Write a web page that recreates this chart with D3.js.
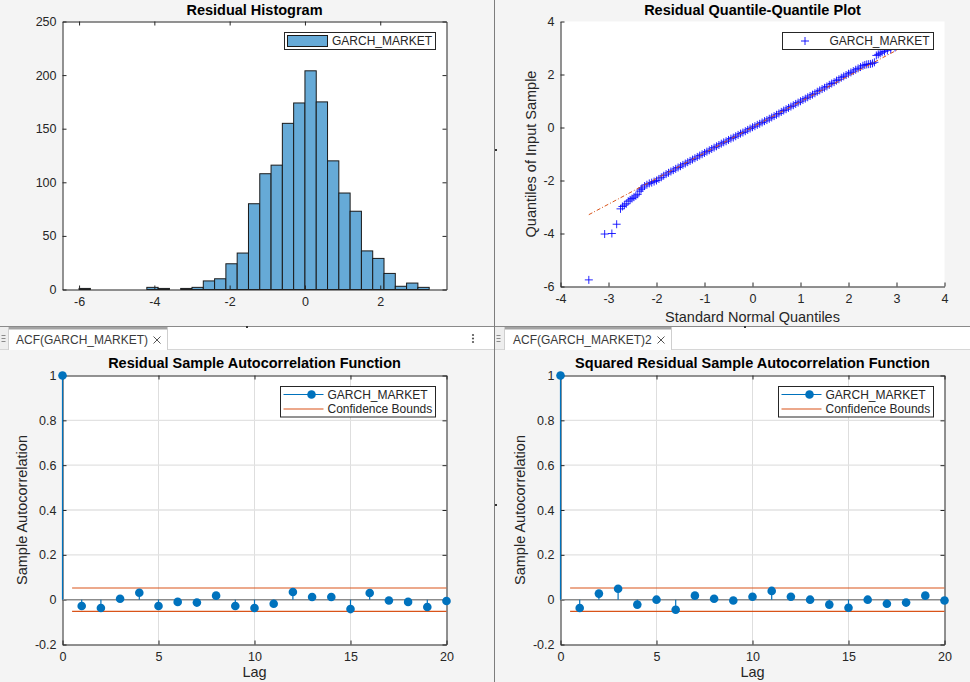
<!DOCTYPE html>
<html><head><meta charset="utf-8">
<script src="https://cdn.jsdelivr.net/npm/d3@7"></script>
<style>
html,body{margin:0;padding:0;background:#f4f4f4;}
svg{display:block;}
</style></head><body><svg id="c" width="970" height="682"></svg>
<script>
// ---------------- DATA ----------------
const seriesName = "GARCH_MARKET";
// Residual histogram: bin lower edges and counts (bin width 0.3)
const histBinStarts = [-6.0,-5.7,-5.4,-5.1,-4.8,-4.5,-4.2,-3.9,-3.6,-3.3,-3.0,-2.7,-2.4,-2.1,-1.8,-1.5,-1.2,-0.9,-0.6,-0.3,0.0,0.3,0.6,0.9,1.2,1.5,1.8,2.1,2.4,2.7,3.0];
const histCounts    = [1,0,0,0,0,0,2,1,0,1,2,8,10,24,34,80,108,116,155,174,204,175,120,90,73,36,29,15,3,6,2];
const histBinWidth = 0.3;
const histXTicks = [-6,-4,-2,0,2];
const histYTicks = [0,50,100,150,200,250];

// QQ plot: theoretical (standard normal) quantiles vs sample quantiles
const qqTheo = [-3.41,-3.08,-2.93,-2.83,-2.75,-2.71,-2.67,-2.63,-2.59,-2.55,-2.51,-2.47,-2.43,-2.39,-2.35,-2.32,
 -2.30,-2.25,-2.20,-2.15,-2.10,-2.05,-2.00,-1.95,-1.90,-1.85,-1.80,-1.75,-1.70,-1.65,-1.60,-1.55,-1.50,-1.45,-1.40,-1.35,-1.30,-1.25,-1.20,-1.15,-1.10,-1.05,-1.00,
 -0.95,-0.90,-0.85,-0.80,-0.75,-0.70,-0.65,-0.60,-0.55,-0.50,-0.45,-0.40,-0.35,-0.30,-0.25,-0.20,-0.15,-0.10,-0.05,0.00,
 0.05,0.10,0.15,0.20,0.25,0.30,0.35,0.40,0.45,0.50,0.55,0.60,0.65,0.70,0.75,0.80,0.85,0.90,0.95,1.00,
 1.05,1.10,1.15,1.20,1.25,1.30,1.35,1.40,1.45,1.50,1.55,1.60,1.65,1.70,1.75,1.80,1.85,1.90,1.95,2.00,2.05,2.10,2.15,2.20,2.25,2.30,
 2.34,2.38,2.42,2.46,2.50,2.54,2.58,2.62,2.66,2.70,2.75,2.81,2.88,2.97,3.08,3.41];
const qqSample = [-5.75,-4.02,-4.00,-3.65,-3.07,-2.98,-2.93,-2.88,-2.78,-2.73,-2.68,-2.63,-2.58,-2.52,-2.40,-2.33,
 -2.28,-2.21,-2.16,-2.11,-2.08,-2.04,-2.00,-1.94,-1.88,-1.82,-1.76,-1.71,-1.66,-1.61,-1.56,-1.51,-1.46,-1.41,-1.36,-1.31,-1.26,-1.21,-1.16,-1.11,-1.06,-1.01,-0.96,
 -0.91,-0.86,-0.81,-0.76,-0.71,-0.66,-0.61,-0.56,-0.52,-0.47,-0.42,-0.38,-0.33,-0.28,-0.23,-0.19,-0.14,-0.09,-0.04,0.01,
 0.05,0.10,0.14,0.19,0.24,0.28,0.33,0.38,0.43,0.48,0.53,0.59,0.64,0.69,0.74,0.79,0.84,0.89,0.94,0.99,
 1.04,1.09,1.14,1.19,1.24,1.29,1.35,1.40,1.45,1.50,1.55,1.61,1.66,1.71,1.77,1.82,1.88,1.93,1.98,2.03,2.08,2.13,2.18,2.23,2.28,2.33,
 2.36,2.38,2.39,2.40,2.42,2.46,2.72,2.76,2.80,2.84,2.87,2.91,2.95,3.02,3.15,3.28];
const qqLineX = [-3.41, 3.41];
const qqLineY = [-3.29, 3.31];
const qqXTicks = [-4,-3,-2,-1,0,1,2,3,4];
const qqYTicks = [-6,-4,-2,0,2,4];

// ACF of residuals, lags 0..20
const lags = [0,1,2,3,4,5,6,7,8,9,10,11,12,13,14,15,16,17,18,19,20];
const acfResid = [1,-0.028,-0.037,0.004,0.031,-0.028,-0.010,-0.013,0.018,-0.028,-0.037,-0.018,0.034,0.012,0.012,-0.042,0.030,-0.004,-0.010,-0.033,-0.006];
const acfSquared = [1,-0.037,0.027,0.049,-0.022,0.0,-0.045,0.018,0.004,-0.004,0.013,0.039,0.013,0.0,-0.022,-0.036,0.0,-0.018,-0.013,0.018,-0.004];
const confBound = 0.052;
const confLagRange = [0.5, 20];
const acfXTicks = [0,5,10,15,20];
const acfYTicks = [-0.2,0,0.2,0.4,0.6,0.8,1];

// ---------------- DRAWING ----------------
const FONT = '"Liberation Sans", Arial, Helvetica, sans-serif';
const AX = "#262626", BLUE = "#0072BD", ORANGE = "#D95319";
const svg = d3.select("#c").style("font-family", FONT);
svg.append("rect").attr("width",970).attr("height",682).attr("fill","#f4f4f4");

function styleAxis(g){
  g.attr("font-family", FONT).attr("font-size", 12.5);
  g.select("path.domain").attr("stroke", AX);
  g.selectAll(".tick line").attr("stroke", AX);
  g.selectAll(".tick text").attr("fill", AX);
}
function frame(root, x, y, xt, yt, box){
  const [x0,x1] = x.range(), [y0,y1] = y.range();
  const fmt = d => String(d);
  root.append("g").attr("transform",`translate(0,${y0})`)
    .call(d3.axisBottom(x).tickValues(xt).tickFormat(fmt).tickSizeInner(-4).tickSizeOuter(0).tickPadding(8)).call(styleAxis);
  root.append("g").attr("transform",`translate(${x0},0)`)
    .call(d3.axisLeft(y).tickValues(yt).tickFormat(fmt).tickSizeInner(-4).tickSizeOuter(0).tickPadding(6)).call(styleAxis);
  if (box){
    root.append("g").attr("transform",`translate(0,${y1})`)
      .call(d3.axisTop(x).tickValues(xt).tickFormat("").tickSizeInner(-4).tickSizeOuter(0)).call(styleAxis);
    root.append("g").attr("transform",`translate(${x1},0)`)
      .call(d3.axisRight(y).tickValues(yt).tickFormat("").tickSizeInner(-4).tickSizeOuter(0)).call(styleAxis);
  }
}
function plotBg(root, x, y){
  const [x0,x1] = x.range(), [y0,y1] = y.range();
  root.append("rect").attr("x",x0).attr("y",y1).attr("width",x1-x0).attr("height",y0-y1).attr("fill","#fff");
}
function title(root, txt, cx, by){
  root.append("text").attr("x",cx).attr("y",by).attr("text-anchor","middle")
    .attr("font-size",14.5).attr("font-weight","bold").attr("fill","#000").text(txt);
}
function label(root, txt, cx, cy, rot){
  const t = root.append("text").attr("text-anchor","middle").attr("font-size",14.5).attr("fill",AX).text(txt);
  if (rot) t.attr("transform",`translate(${cx},${cy}) rotate(-90)`); else t.attr("x",cx).attr("y",cy);
}

// ---- Histogram ----
{
  const g = svg.append("g");
  const x = d3.scaleLinear().domain([-6.44, 3.76]).range([62.5, 446.5]);
  const y = d3.scaleLinear().domain([0, 250]).range([289.5, 21.5]);
  plotBg(g, x, y);
  g.selectAll("rect.bar").data(histCounts).enter().append("rect").attr("class","bar")
    .attr("x",(d,i)=>x(histBinStarts[i])).attr("width",(d,i)=>x(histBinStarts[i]+histBinWidth)-x(histBinStarts[i]))
    .attr("y",d=>y(d)).attr("height",d=>y(0)-y(d))
    .attr("fill","#66AAD7").attr("stroke","#1a1a1a").attr("stroke-width",1);
  frame(g, x, y, histXTicks, histYTicks, true);
  title(g, "Residual Histogram", 254.5, 15);
  const lg = g.append("g");
  lg.append("rect").attr("x",284.5).attr("y",32.5).attr("width",151).attr("height",17).attr("fill","#fff").attr("stroke",AX);
  lg.append("rect").attr("x",287.5).attr("y",35.5).attr("width",40).attr("height",11).attr("fill","#66AAD7").attr("stroke","#1a1a1a");
  lg.append("text").attr("x",332).attr("y",45).attr("font-size",12).attr("fill",AX).text(seriesName);
}

// ---- QQ plot ----
{
  const g = svg.append("g");
  const x = d3.scaleLinear().domain([-4, 4]).range([560.5, 944.5]);
  const y = d3.scaleLinear().domain([-6, 4]).range([286.5, 21.5]);
  plotBg(g, x, y);
  const plus = "M-4,0H4M0,-4V4";
  g.selectAll("path.pt").data(qqTheo).enter().append("path").attr("class","pt")
    .attr("d",plus).attr("transform",(d,i)=>`translate(${x(d)},${y(qqSample[i])})`)
    .attr("stroke","#0000ff").attr("stroke-width",1).attr("stroke-opacity",0.85).attr("fill","none");
  g.append("path").datum(qqLineX.map((d,i)=>[d,qqLineY[i]]))
    .attr("d", d3.line().x(d=>x(d[0])).y(d=>y(d[1])))
    .attr("stroke",ORANGE).attr("stroke-width",1).attr("stroke-dasharray","4,2,1,2").attr("fill","none");
  frame(g, x, y, qqXTicks, qqYTicks, false);
  title(g, "Residual Quantile-Quantile Plot", 752.5, 15);
  label(g, "Standard Normal Quantiles", 752.5, 322, false);
  label(g, "Quantiles of Input Sample", 535.5, 154, true);
  const lg = g.append("g");
  lg.append("rect").attr("x",782.5).attr("y",32.5).attr("width",151).attr("height",17).attr("fill","#fff").attr("stroke",AX);
  lg.append("path").attr("d",plus).attr("transform","translate(805,41)").attr("stroke","#0000ff").attr("stroke-width",0.9).attr("fill","none");
  lg.append("text").attr("x",829.5).attr("y",45).attr("font-size",12).attr("fill",AX).text(seriesName);
}

// ---- Separators & tab strips ----
{
  const g = svg.append("g");
  g.append("line").attr("x1",0).attr("x2",970).attr("y1",326.5).attr("y2",326.5).attr("stroke","#8a8a8a");
  g.append("rect").attr("x",0).attr("y",327).attr("width",970).attr("height",22).attr("fill","#fff");
  g.append("line").attr("x1",0).attr("x2",970).attr("y1",349.5).attr("y2",349.5).attr("stroke","#d6d6d6");
  const tabs = [
    {icon:[0,8], tab:[8,167], text:"ACF(GARCH_MARKET)", tx:16, close:157, dots:473},
    {icon:[495,504], tab:[504,671], text:"ACF(GARCH_MARKET)2", tx:513, close:661, dots:null}
  ];
  tabs.forEach(t=>{
    g.append("rect").attr("x",t.icon[0]).attr("y",327).attr("width",t.icon[1]-t.icon[0]).attr("height",22).attr("fill","#eeeeee");
    [335.5,338.5,341.5].forEach(yy=>g.append("line").attr("x1",t.icon[0]+1.5).attr("x2",t.icon[0]+5.5).attr("y1",yy).attr("y2",yy).attr("stroke","#8a8a8a"));
    g.append("line").attr("x1",t.icon[1]+0.5).attr("x2",t.icon[1]+0.5).attr("y1",327).attr("y2",350).attr("stroke","#cfcfcf");
    g.append("rect").attr("x",t.tab[0]+1).attr("y",327).attr("width",t.tab[1]-t.tab[0]-1).attr("height",23).attr("fill","#fff");
    g.append("rect").attr("x",t.tab[0]+1).attr("y",327).attr("width",t.tab[1]-t.tab[0]-1).attr("height",2.5).attr("fill","#a3a3a3");
    g.append("line").attr("x1",t.tab[1]+0.5).attr("x2",t.tab[1]+0.5).attr("y1",327).attr("y2",350).attr("stroke","#cfcfcf");
    g.append("text").attr("x",t.tx).attr("y",343.5).attr("font-size",12).attr("fill","#3a3a3a").text(t.text);
    g.append("path").attr("d",`M${t.close-3.5},${336.5}L${t.close+3.5},${343.5}M${t.close+3.5},${336.5}L${t.close-3.5},${343.5}`)
      .attr("stroke","#555").attr("stroke-width",1);
    if (t.dots) [335,338.5,342].forEach(yy=>g.append("circle").attr("cx",t.dots).attr("cy",yy).attr("r",1.1).attr("fill","#555"));
  });
  g.append("line").attr("x1",494.5).attr("x2",494.5).attr("y1",0).attr("y2",682).attr("stroke","#7d7d7d");
  [[495,149],[495,504],[246,326],[744,326]].forEach(p=>g.append("rect").attr("x",p[0]).attr("y",p[1]).attr("width",2).attr("height",2).attr("fill","#333"));
}

// ---- ACF plots ----
function acfPlot(vals, xr, ttl, ylx, legX){
  const g = svg.append("g");
  const x = d3.scaleLinear().domain([0, 20]).range(xr);
  const y = d3.scaleLinear().domain([-0.2, 1]).range([644.5, 375.5]);
  plotBg(g, x, y);
  acfXTicks.filter(d=>d>0 && d<20).forEach(d=>g.append("line").attr("x1",x(d)).attr("x2",x(d)).attr("y1",y(-0.2)).attr("y2",y(1)).attr("stroke","#dedede"));
  acfYTicks.filter(d=>d>0 && d<1).forEach(d=>g.append("line").attr("x1",x(0)).attr("x2",x(20)).attr("y1",y(d)).attr("y2",y(d)).attr("stroke","#e2e2e2").attr("stroke-width",1.3));
  frame(g, x, y, acfXTicks, acfYTicks, true);
  g.append("line").attr("x1",x(0)).attr("x2",x(20)).attr("y1",y(0)).attr("y2",y(0)).attr("stroke","#8c8c8c").attr("stroke-width",1.5);
  g.append("line").attr("x1",x(confLagRange[0])).attr("x2",x(confLagRange[1])).attr("y1",y(confBound)).attr("y2",y(confBound))
    .attr("stroke",ORANGE).attr("stroke-opacity",0.5).attr("stroke-width",2.2);
  g.append("line").attr("x1",x(confLagRange[0])).attr("x2",x(confLagRange[1])).attr("y1",y(-confBound)).attr("y2",y(-confBound))
    .attr("stroke",ORANGE).attr("stroke-width",1.3);
  g.selectAll("line.stem").data(vals).enter().append("line").attr("class","stem")
    .attr("x1",(d,i)=>x(lags[i])).attr("x2",(d,i)=>x(lags[i])).attr("y1",y(0)).attr("y2",d=>y(d))
    .attr("stroke",BLUE).attr("stroke-width",1.2);
  g.selectAll("circle.mk").data(vals).enter().append("circle").attr("class","mk")
    .attr("cx",(d,i)=>x(lags[i])).attr("cy",d=>y(d)).attr("r",4.3).attr("fill",BLUE);
  title(g, ttl, (xr[0]+xr[1])/2, 367.5);
  label(g, "Lag", (xr[0]+xr[1])/2, 677, false);
  label(g, "Sample Autocorrelation", ylx, 510, true);
  const lg = g.append("g");
  lg.append("rect").attr("x",legX).attr("y",386.5).attr("width",155).attr("height",30.5).attr("fill","#fff").attr("stroke",AX);
  lg.append("line").attr("x1",legX+3).attr("x2",legX+43).attr("y1",394.5).attr("y2",394.5).attr("stroke",BLUE).attr("stroke-width",1.2);
  lg.append("circle").attr("cx",legX+31).attr("cy",394.5).attr("r",4.3).attr("fill",BLUE);
  lg.append("line").attr("x1",legX+3).attr("x2",legX+43).attr("y1",409).attr("y2",409).attr("stroke",ORANGE).attr("stroke-width",1.2);
  lg.append("text").attr("x",legX+47).attr("y",399).attr("font-size",12).attr("fill",AX).text(seriesName);
  lg.append("text").attr("x",legX+47).attr("y",413).attr("font-size",12).attr("fill",AX).text("Confidence Bounds");
}
acfPlot(acfResid, [62.5, 446.5], "Residual Sample Autocorrelation Function", 26.5, 280.5);
acfPlot(acfSquared, [560.5, 944.5], "Squared Residual Sample Autocorrelation Function", 524.5, 778.5);
</script></body></html>
